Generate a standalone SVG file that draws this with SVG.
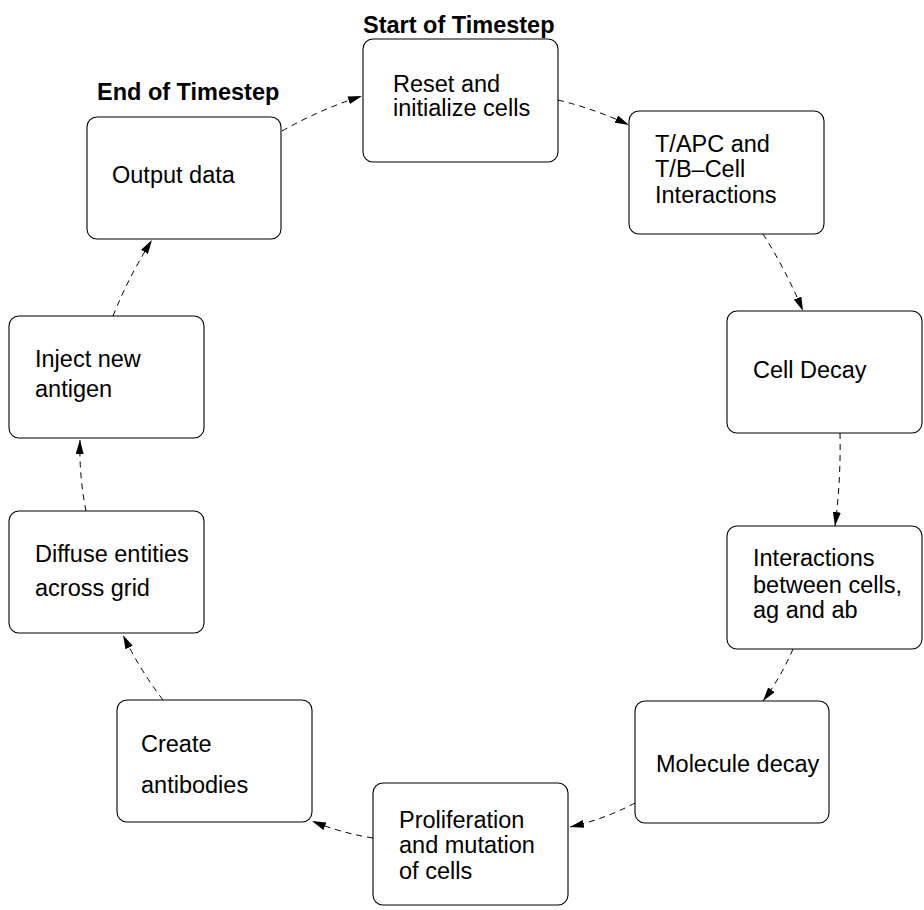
<svg xmlns="http://www.w3.org/2000/svg" width="924" height="910" viewBox="0 0 924 910">
<defs>
<style>
.box{fill:#fff;stroke:#000;stroke-width:1.1}
.t{font-family:"Liberation Sans",Arial,sans-serif;font-size:23.5px;fill:#000}
.b{font-family:"Liberation Sans",Arial,sans-serif;font-size:23.5px;font-weight:bold;fill:#000}
.c{fill:none;stroke:#000;stroke-width:1;stroke-dasharray:6,5;marker-end:url(#ah)}
</style>
<marker id="ah" viewBox="0 0 14 8" refX="14" refY="4" markerWidth="14" markerHeight="8" markerUnits="userSpaceOnUse" orient="auto">
<path d="M0,0 L14,4 L0,8 Z" fill="#000"/>
</marker>
</defs>
<rect width="924" height="910" fill="#fff"/>
<text class="b" x="97" y="100">End of Timestep</text>
<text class="b" x="363" y="33">Start of Timestep</text>
<g id="connectors">
<path class="c" d="M282,131 Q321,109 362,96"/>
<path class="c" d="M558,100 Q595,109 629,125"/>
<path class="c" d="M763,234 Q786,270 803,311"/>
<path class="c" d="M840,433 Q841,480 835,526"/>
<path class="c" d="M793,649 Q781,677 763,701"/>
<path class="c" d="M635,803 Q605,819 570,827"/>
<path class="c" d="M373,838 Q341,833 312,821"/>
<path class="c" d="M163,700 Q140,670 123,635"/>
<path class="c" d="M86,511 Q79,476 80,440"/>
<path class="c" d="M113,316 Q129,276 152,240"/>
</g>
<g id="reset">
<rect class="box" x="363" y="39" width="195" height="123" rx="10"/>
<text class="t" x="393" y="92">Reset and</text>
<text class="t" x="393" y="116">initialize cells</text>
</g>
<g id="tapc">
<rect class="box" x="629" y="111" width="195" height="123" rx="10"/>
<text class="t" x="655" y="152">T/APC and</text>
<text class="t" x="655" y="177">T/B–Cell</text>
<text class="t" x="655" y="203">Interactions</text>
</g>
<g id="celldecay">
<rect class="box" x="727" y="311" width="195" height="122" rx="10"/>
<text class="t" x="753" y="378">Cell Decay</text>
</g>
<g id="interactions">
<rect class="box" x="727" y="526" width="195" height="123" rx="10"/>
<text class="t" x="753" y="566">Interactions</text>
<text class="t" x="753" y="593">between cells,</text>
<text class="t" x="753" y="618">ag and ab</text>
</g>
<g id="molecule">
<rect class="box" x="635" y="701" width="194" height="122" rx="10"/>
<text class="t" x="656" y="772">Molecule decay</text>
</g>
<g id="proliferation">
<rect class="box" x="373" y="783" width="195" height="122" rx="10"/>
<text class="t" x="399" y="828">Proliferation</text>
<text class="t" x="399" y="853">and mutation</text>
<text class="t" x="399" y="879">of cells</text>
</g>
<g id="create">
<rect class="box" x="117" y="700" width="195" height="122" rx="10"/>
<text class="t" x="141" y="752">Create</text>
<text class="t" x="141" y="793">antibodies</text>
</g>
<g id="diffuse">
<rect class="box" x="9" y="511" width="195" height="122" rx="10"/>
<text class="t" x="35" y="562">Diffuse entities</text>
<text class="t" x="35" y="596">across grid</text>
</g>
<g id="inject">
<rect class="box" x="9" y="316" width="195" height="122" rx="10"/>
<text class="t" x="35" y="367">Inject new</text>
<text class="t" x="35" y="397">antigen</text>
</g>
<g id="output">
<rect class="box" x="87" y="117" width="194" height="122" rx="10"/>
<text class="t" x="112" y="183">Output data</text>
</g>
</svg>
